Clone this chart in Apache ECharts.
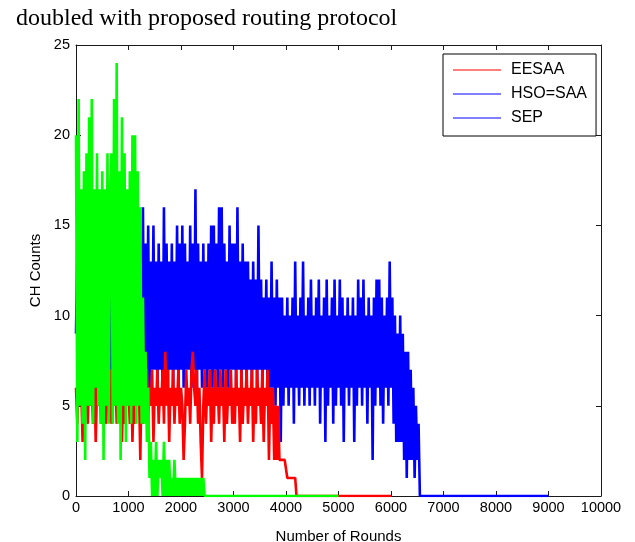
<!DOCTYPE html>
<html>
<head>
<meta charset="utf-8">
<script src="https://cdn.jsdelivr.net/npm/echarts@6/dist/echarts.min.js"></script>
<style>
html,body{margin:0;padding:0;background:#fff;}
#chart{width:635px;height:542px;}
</style>
</head>
<body>
<div id="chart"></div>
<script>
// ---- data ----
const captionText = 'doubled with proposed routing protocol';
const xAxisTitle = 'Number of Rounds';
const yAxisTitle = 'CH Counts';
const seriesNames = ['EESAA', 'HSO=SAA', 'SEP'];
const xTickValues = [0, 1000, 2000, 3000, 4000, 5000, 6000, 7000, 8000, 9000, 10000];
const yTickValues = [0, 5, 10, 15, 20, 25];

// CH counts sampled every 25 rounds, starting at round 0
const roundStep = 25;

const eesaaCounts = [
  6,4,7,5,6,3,7,5,6,4, 7,5,6,4,7,3,6,5,7,4, 6,5,7,4,6,5,7,4,6,5, 7,4,6,5,7,3,6,4,7,5,
  6,4,7,3,6,4,7,5,6,2, 7,4,6,5,7,4,6,5,7,3, 6,5,7,4,6,5,7,4,8,5, 7,3,6,5,7,4,6,5,7,4,
  6,5,2,4,7,5,6,4,7,8, 6,5,7,4,6,3,1,5,7,4, 6,5,7,3,6,4,7,5,6,4, 7,5,6,3,7,4,6,5,7,4,
  6,4,7,5,6,3,7,4,6,5, 7,4,6,5,7,3,6,4,7,5, 6,4,7,3,6,5,7,2,6,4, 6,2,5,2,5,2,2,2,2,2,
  2,1,1,1,1,1,1,1,0
];
const eesaaLast = [6000, 0];

const hsoSaaCounts = [
  9,14,7,13,6,14,7,13,5,14, 7,14,6,13,7,14,5,13,7,14, 6,14,7,13,5,14,7,13,6,17, 7,14,6,13,7,14,5,13,7,14,
  6,16,7,14,5,13,7,14,6,14, 7,16,6,14,7,15,6,13,7,15, 7,13,6,14,7,13,5,16,7,14, 6,13,7,14,6,13,7,15,6,14,
  7,15,6,14,7,13,7,15,6,14, 7,17,5,14,7,13,6,14,7,13, 6,14,7,15,6,15,7,14,6,16, 7,16,6,14,7,13,6,15,7,14,
  7,14,6,16,7,13,6,14,7,13, 6,13,7,12,6,13,7,12,6,15, 7,12,6,11,7,12,5,11,6,13, 6,11,5,12,6,11,3,11,5,10,
  6,11,5,10,6,11,4,13,6,10, 5,11,6,13,5,10,6,11,5,12, 6,10,5,11,6,12,4,10,6,11, 3,12,5,10,6,11,4,12,5,10,
  6,12,5,11,3,10,6,11,5,10, 6,11,3,10,5,12,6,11,5,12, 6,10,4,11,6,10,2,11,5,12, 6,12,5,11,4,10,6,11,5,13,
  6,11,4,10,3,9,3,10,3,9, 2,8,1,8,2,7,2,6,1,5, 2,4,0
];
const hsoSaaLast = [9000, 0];

const sepCounts = [
  20,3,22,5,17,4,18,2,19,5, 21,5,22,4,17,6,19,5,17,4, 18,2,17,5,19,4,17,19,4,22,
  5,24,4,18,2,21,5,19,3,17, 5,18,4,20,5,20,4,18,5,16, 4,11,4,8,3,6,1,3,0,2,
  0,3,0,2,1,2,0,3,0,2, 0,2,0,1,0,2,0,1,0,1, 0,1,0,1,0,1,0,1,0,1, 0,1,0,1,0,1,0,1,0,0,
  0
];
const sepLast = [5000, 0];

// ---- build ----
function toPairs(values, last) {
  const d = values.map((v, i) => [i * roundStep, v]);
  d.push(last);
  return d;
}

const FONT = '"Liberation Sans", Arial, sans-serif';
const AX = '#1a1a1a';

const chart = echarts.init(document.getElementById('chart'), null, {renderer: 'canvas'});

const baseX = {
  type: 'value', min: 0, max: 10000, interval: 1000,
  axisLine: {show: true, onZero: false, lineStyle: {color: AX, width: 1}},
  axisTick: {show: true, inside: true, length: 5, lineStyle: {color: AX, width: 1}},
  splitLine: {show: false},
  minorTick: {show: false}
};
const baseY = {
  type: 'value', min: 0, max: 25, interval: 5,
  axisLine: {show: true, onZero: false, lineStyle: {color: AX, width: 1}},
  axisTick: {show: true, inside: true, length: 5, lineStyle: {color: AX, width: 1}},
  splitLine: {show: false},
  minorTick: {show: false}
};

function lineSeries(name, data, color, z) {
  return {
    name: name, type: 'line', data: data,
    xAxisIndex: 0, yAxisIndex: 0,
    symbol: 'none', showSymbol: false,
    sampling: null,
    lineStyle: {color: color, width: 2.6, join: 'bevel'},
    itemStyle: {color: color},
    emphasis: {disabled: true},
    silent: true, animation: false, z: z
  };
}

chart.setOption({
  animation: false,
  backgroundColor: '#fff',
  title: {
    text: captionText, left: 16, top: 7, padding: 0,
    textStyle: {fontFamily: '"Liberation Serif", "Times New Roman", serif', fontSize: 24, fontWeight: 'normal', color: '#000'}
  },
  grid: {left: 76, right: 34, top: 45, bottom: 46, containLabel: false, outerBoundsMode: 'none', show: false},
  legend: {
    orient: 'vertical', left: 443, top: 54,
    backgroundColor: '#fff', borderColor: '#000', borderWidth: 1, borderRadius: 0,
    padding: [8, 9, 10, 10], itemGap: 8,
    icon: 'rect', itemWidth: 48, itemHeight: 1,
    selectedMode: false,
    textStyle: {fontFamily: FONT, fontSize: 16, color: '#000', padding: [0, 0, 0, 5]},
    data: [
      {name: seriesNames[0], itemStyle: {color: '#ff0000'}},
      {name: seriesNames[1], itemStyle: {color: '#0000ff'}},
      {name: seriesNames[2], itemStyle: {color: '#0000ff'}}
    ]
  },
  xAxis: [
    Object.assign({}, baseX, {
      position: 'bottom',
      name: xAxisTitle, nameLocation: 'middle', nameGap: 33,
      nameTextStyle: {fontFamily: FONT, fontSize: 15, color: '#000'},
      axisLabel: {show: true, margin: 4, fontFamily: FONT, fontSize: 14.5, color: '#000',
        formatter: v => xTickValues.includes(v) ? String(v) : ''}
    }),
    Object.assign({}, baseX, {position: 'top', axisLabel: {show: false}})
  ],
  yAxis: [
    Object.assign({}, baseY, {
      position: 'left',
      name: yAxisTitle, nameLocation: 'middle', nameGap: 31,
      nameTextStyle: {fontFamily: FONT, fontSize: 15, color: '#000'},
      axisLabel: {show: true, margin: 6, fontFamily: FONT, fontSize: 14.5, color: '#000',
        formatter: v => yTickValues.includes(v) ? String(v) : ''}
    }),
    Object.assign({}, baseY, {position: 'right', axisLabel: {show: false}})
  ],
  series: [
    lineSeries(seriesNames[1], toPairs(hsoSaaCounts, hsoSaaLast), '#0000ff', 2),
    lineSeries(seriesNames[0], toPairs(eesaaCounts, eesaaLast), '#ff0000', 3),
    lineSeries(seriesNames[2], toPairs(sepCounts, sepLast), '#00ff00', 4)
  ]
});
</script>
</body>
</html>
